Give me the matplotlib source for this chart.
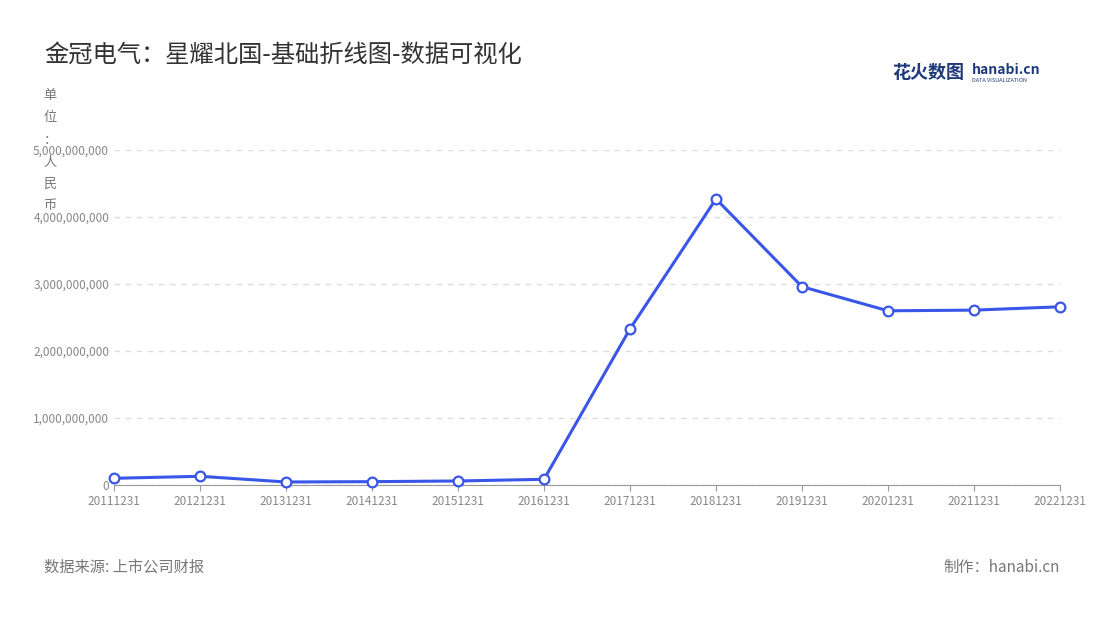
import matplotlib
matplotlib.use("Agg")
import matplotlib.pyplot as plt
from matplotlib.ticker import FuncFormatter

plt.rcParams['font.family'] = ['Noto Sans CJK SC', 'DejaVu Sans']

dates = ["20111231","20121231","20131231","20141231","20151231","20161231",
         "20171231","20181231","20191231","20201231","20211231","20221231"]
values = [100e6,130e6,45e6,50e6,60e6,85e6,2330e6,4270e6,2960e6,2600e6,2610e6,2660e6]
yticks = [0,1e9,2e9,3e9,4e9,5e9]

fig = plt.figure(figsize=(11,6.2), dpi=100)
ax = fig.add_axes([114/1100, 135/620, 946/1100, 335/620])
x = list(range(len(dates)))
ax.plot(x, values, color='#3a56e8', lw=2.2, marker='o', ms=7,
        mfc='white', mec='#3a56e8', mew=1.6, zorder=3, clip_on=False)
ax.set_xlim(0, len(dates)-1)
ax.set_ylim(0, 5e9)
ax.set_xticks(x)
ax.set_xticklabels(dates)
ax.set_yticks(yticks)
ax.yaxis.set_major_formatter(FuncFormatter(lambda v,p: f"{int(v):,}"))
ax.tick_params(axis='both', labelsize=8.5, colors='#888888', length=0)
ax.tick_params(axis='x', length=4, color='#999999')
for s in ['top','right','left']:
    ax.spines[s].set_visible(False)
ax.spines['bottom'].set_color('#999999')
ax.grid(axis='y', ls=(0,(4,4)), color='#dddddd', lw=1)
ax.set_axisbelow(True)

fig.text(44/1100, 1-55/620, "金冠电气：星耀北国-基础折线图-数据可视化", fontsize=17.5, color='#333333', va='center')
for i, ch in enumerate("单位：人民币"):
    fig.text(50/1100, 1-(96+i*22)/620, ch, fontsize=9.5, color='#777777', ha='center', va='center')
fig.text(44/1100, 1-567/620, "数据来源: 上市公司财报", fontsize=11, color='#777777', va='center')
fig.text(1060/1100, 1-567/620, "制作：hanabi.cn", fontsize=11, color='#777777', va='center', ha='right')
fig.text(892/1100, 1-72/620, "花火数图", fontsize=13, color='#1f3a7a', va='center', fontweight='bold')
fig.text(972/1100, 1-70/620, "hanabi.cn", fontsize=10, color='#1f3a7a', va='center', fontweight='bold')
fig.text(972/1100, 1-81/620, "DATA VISUALIZATION", fontsize=4, color='#1f3a7a', va='center')
fig.savefig("out.png", dpi=100)
